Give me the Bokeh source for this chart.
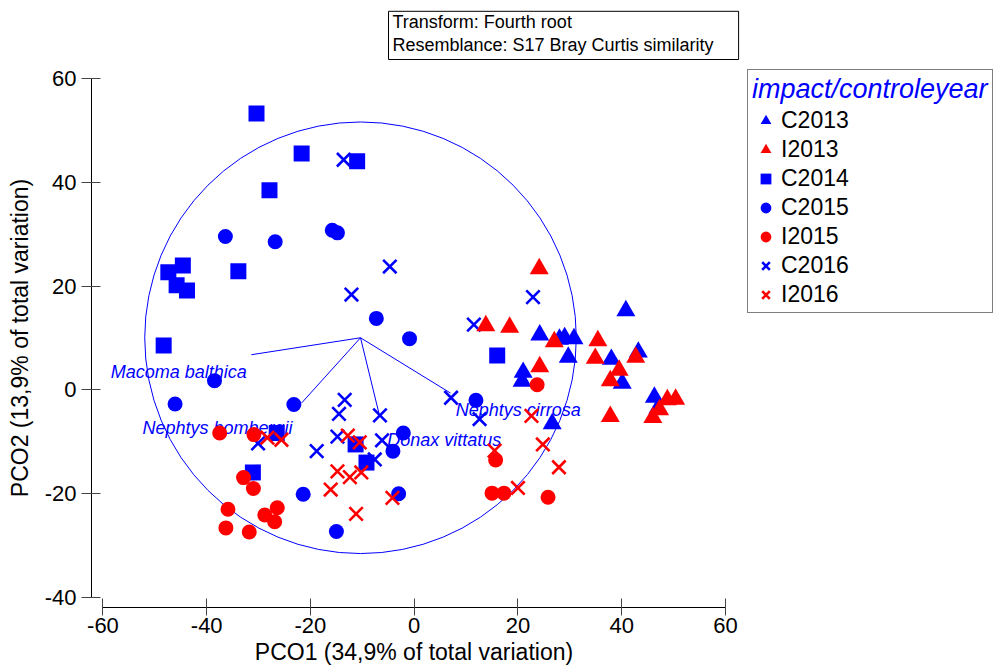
from bokeh.plotting import figure
from bokeh.models import Range1d, FixedTicker, Legend, LegendItem
from bokeh.layouts import row
from bokeh.core.properties import value
from bokeh.embed import file_html
from bokeh.resources import INLINE

FONT = "Liberation Sans"
BLUE = "#0000FF"
RED = "#FF0000"
NAN = float("nan")

# ---- data ----
c2013_x = [24.2, 28.0, 29.0, 30.8, 29.7, 21.0, 20.8, 38.0, 40.8, 43.2, 40.1, 46.3, 26.6, 47.0]
c2013_y = [10.6, 9.8, 10.1, 9.9, 6.3, 3.4, 1.7, 5.9, 15.3, 7.3, 1.3, -1.4, -6.5, -3.5]

i2013_x = [24.1, 13.8, 18.4, 27.0, 24.2, 35.4, 34.9, 42.7, 39.5, 37.8, 48.8, 50.4, 47.3, 46.0, 37.8]
i2013_y = [23.4, 12.4, 12.1, 9.3, 4.5, 9.5, 6.1, 6.3, 3.8, 1.8, -1.9, -1.8, -3.8, -5.3, -5.1]

c2014_x = [-30.4, -21.7, -27.9, -44.6, -47.4, -45.8, -43.8, -33.9, -11.0, -48.3, 16.0, -26.5, -31.1, -11.3, -9.2]
c2014_y = [53.3, 45.6, 38.5, 24.0, 22.7, 20.2, 19.2, 22.9, 44.1, 8.6, 6.65, -8.3, -15.9, -10.5, -14.0]

c2015_x = [-36.4, -26.8, -15.8, -14.8, -7.3, -0.9, -38.5, -46.1, -23.2, 11.9, -2.1, -4.1, -21.4, -3.0, -15.0]
c2015_y = [29.6, 28.6, 30.8, 30.3, 13.8, 9.9, 1.8, -2.7, -2.8, -2.0, -8.3, -11.8, -20.1, -20.0, -27.3]

i2015_x = [-37.5, -30.9, -32.9, -31.0, -35.9, -36.3, -31.8, -28.8, -26.4, -26.9, 23.7, 15.7, 15.0, 17.3, 25.8]
i2015_y = [-8.3, -8.6, -16.9, -19.0, -23.0, -26.6, -27.4, -24.1, -22.7, -25.4, 1.0, -13.5, -19.9, -19.9, -20.7]

c2016_x = [-13.6, -4.7, -12.1, 11.5, 22.9, 7.1, 12.6, -13.4, -14.5, -6.6, -14.8, -18.8, -6.2, -7.6, -30.1]
c2016_y = [44.4, 23.8, 18.4, 12.6, 17.9, -1.5, -5.6, -1.9, -4.6, -4.9, -9.0, -11.8, -9.7, -13.4, -10.3]

i2016_x = [-28.3, -25.6, -12.8, -10.5, -14.8, -12.4, -10.2, -16.1, -4.2, -11.2, 15.5, 24.8, 27.9, 20.0, 22.6]
i2016_y = [-9.2, -9.6, -8.8, -10.1, -15.7, -16.8, -15.9, -19.2, -20.8, -23.9, -11.7, -10.5, -14.9, -18.9, -5.0]

# vector overlay (correlation circle)
circle_cx = -10.35
circle_cy = 10.07
circle_r = 41.6
vec_names = ["Macoma balthica", "Nephtys hombergii", "Donax vittatus", "Nephtys cirrosa"]
vec_end_x = [-31.4, -21.7, -6.8, 7.0]
vec_end_y = [6.8, -2.5, -4.5, -0.6]
vec_lab_x = [-58.5, -52.4, -5.2, 8.0]
vec_lab_y = [3.4, -7.3, -9.7, -3.8]

x_ticks = [-60, -40, -20, 0, 20, 40, 60]
x_tick_labels = ["-60", "-40", "-20", "0", "20", "40", "60"]
y_ticks = [-40, -20, 0, 20, 40, 60]
y_tick_labels = ["-40", "-20", "0", "20", "40", "60"]

x_title = "PCO1 (34,9% of total variation)"
y_title = "PCO2 (13,9% of total variation)"
legend_title = "impact/controleyear"
legend_labels = ["C2013", "I2013", "C2014", "C2015", "I2015", "C2016", "I2016"]
info_text = "Transform: Fourth root\nResemblance: S17 Bray Curtis similarity"

# ---- main figure ----
p = figure(width=745, height=671, output_backend="svg", toolbar_location=None,
           x_range=Range1d(-62.21, 62.13), y_range=Range1d(-41.95, 62.0),
           min_border_left=91, min_border_right=9, min_border_top=68, min_border_bottom=64,
           title=info_text)
p.grid.visible = False
p.outline_line_color = None
p.background_fill_color = "white"
p.border_fill_color = "white"

# info box as the plot title (above the frame)
p.title.text_font = FONT
p.title.text_font_size = "18px"
p.title.text_font_style = "normal"
p.title.text_color = "black"
p.title.text_line_height = 1.16
p.title.align = "left"
p.title.offset = 297
p.title.standoff = 18
p.title.border_line_color = "black"
p.title.border_line_width = 1
p.title.background_fill_color = "white"
p.title.padding = dict(left=4, right=25, top=1, bottom=4)

for ax, ticks, labels, bounds, title in [
        (p.xaxis[0], x_ticks, x_tick_labels, (-60, 60), x_title),
        (p.yaxis[0], y_ticks, y_tick_labels, (-40, 60), y_title)]:
    ax.ticker = FixedTicker(ticks=ticks)
    ax.major_label_overrides = {t: l for t, l in zip(ticks, labels)}
    ax.bounds = bounds
    ax.axis_label = title
    ax.axis_label_text_font = FONT
    ax.axis_label_text_font_size = "23px"
    ax.axis_label_text_font_style = "normal"
    ax.axis_label_text_color = "black"
    ax.major_label_text_font = FONT
    ax.major_label_text_font_size = "22px"
    ax.major_label_text_color = "black"
    ax.axis_line_color = "black"
    ax.axis_line_width = 1
    ax.major_tick_line_color = "#444444"
    ax.major_tick_line_width = 1
    ax.minor_tick_line_color = None

p.xaxis.major_tick_in = 9
p.xaxis.major_tick_out = 8
p.xaxis.major_label_standoff = 2
p.xaxis.axis_label_standoff = 3
p.yaxis.major_tick_in = 9
p.yaxis.major_tick_out = 10
p.yaxis.major_label_standoff = 5
p.yaxis.axis_label_standoff = 9

# correlation circle and vectors
p.circle(x=[circle_cx], y=[circle_cy], radius=circle_r, fill_color=None,
         line_color=BLUE, line_width=1)
p.segment(x0=[circle_cx] * len(vec_end_x), y0=[circle_cy] * len(vec_end_y),
          x1=vec_end_x, y1=vec_end_y, line_color=BLUE, line_width=1)
p.text(x=vec_lab_x, y=vec_lab_y, text=vec_names, text_color=BLUE,
       text_font=value(FONT), text_font_style="italic", text_font_size="18px",
       text_align="left", text_baseline="alphabetic")

# marker styles per group (shared by the plot and the legend)
styles = {
    "C2013": dict(marker="triangle", size=19, fill_color=BLUE, line_color=None),
    "I2013": dict(marker="triangle", size=19, fill_color=RED, line_color=None),
    "C2014": dict(marker="square", size=16, fill_color=BLUE, line_color=None),
    "C2015": dict(marker="circle", size=15, fill_color=BLUE, line_color=None),
    "I2015": dict(marker="circle", size=15, fill_color=RED, line_color=None),
    "C2016": dict(marker="x", size=19, line_color=BLUE, line_width=2.6),
    "I2016": dict(marker="x", size=19, line_color=RED, line_width=2.6),
}
series = {
    "C2013": (c2013_x, c2013_y), "I2013": (i2013_x, i2013_y),
    "C2014": (c2014_x, c2014_y), "C2015": (c2015_x, c2015_y),
    "I2015": (i2015_x, i2015_y), "C2016": (c2016_x, c2016_y),
    "I2016": (i2016_x, i2016_y),
}
draw_order = ["C2016", "C2014", "C2015", "C2013", "I2013", "I2015", "I2016"]
for name in draw_order:
    xs, ys = series[name]
    p.scatter(xs, ys, **styles[name])

# ---- legend panel (to the right of the plot) ----
q = figure(width=258, height=671, output_backend="svg", toolbar_location=None,
           x_axis_location=None, y_axis_location=None,
           x_range=Range1d(0, 1), y_range=Range1d(0, 1), min_border=0)
q.grid.visible = False
q.outline_line_color = None
q.background_fill_color = "white"
q.border_fill_color = "white"

items = []
for name in legend_labels:
    r = q.scatter([NAN], [NAN], **styles[name])   # legend proxy only
    items.append(LegendItem(label=name, renderers=[r]))

legend = Legend(items=items, location=(2, 294), title=legend_title,
    title_text_font=FONT, title_text_font_style="italic", title_text_color=BLUE,
    title_text_font_size="27px", title_standoff=2,
    label_text_font=FONT, label_text_font_size="23px", label_text_color="black",
    glyph_width=27, glyph_height=27, label_height=27, spacing=2, padding=4,
    label_standoff=2, margin=0,
    border_line_color="black", border_line_width=1,
    background_fill_color="white", background_fill_alpha=1)
q.add_layout(legend)

open("out.html", "w").write(file_html(row(p, q), INLINE))
